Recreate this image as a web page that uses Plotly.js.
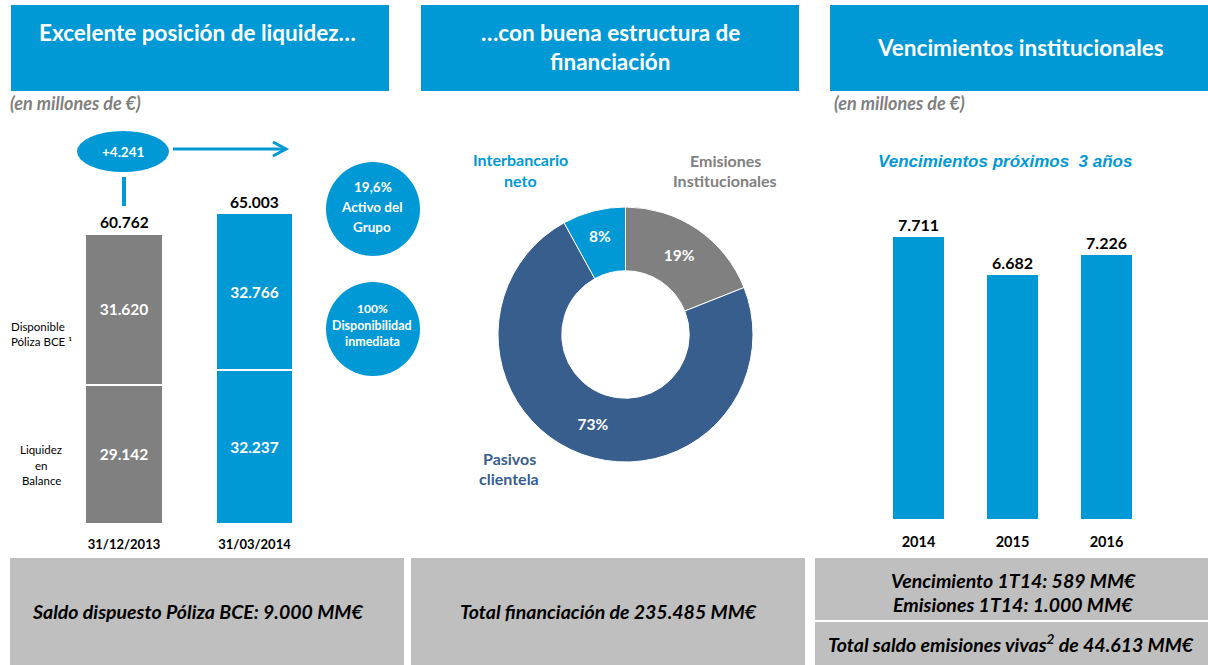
<!DOCTYPE html>
<html>
<head>
<meta charset="utf-8">
<script src="https://cdn.plot.ly/plotly-3.0.1.min.js"></script>
<style>html,body{margin:0;padding:0;background:#fff;}#chart{width:1208px;height:665px;}</style>
</head>
<body>
<div id="chart"></div>
<script>
// ---------- DATA ----------
const liqDates = ['31/12/2013', '31/03/2014'];
const liqBalance = [29142, 32237];          // Liquidez en Balance
const liqPoliza = [31620, 32766];           // Disponible Póliza BCE
const liqChange = '+4.241';
const fundLabels = ['Emisiones<br>Institucionales', 'Pasivos<br>clientela', 'Interbancario<br>neto'];
const fundShares = [19, 73, 8];
const matYears = ['2014', '2015', '2016'];
const matValues = [7711, 6682, 7226];

// ---------- STYLE ----------
const BLUE = '#0099D5', GRAY = '#808080', DARK = '#385E8E', BOX = '#BFBFBF';
const FONT = 'Lato, "Open Sans", sans-serif';
const W = 1208, H = 665;
const X = p => p / W;
const Y = p => 1 - p / H;
const fmt = n => String(Math.round(n)).replace(/\B(?=(\d{3})+(?!\d))/g, '.');

const rect = (x0, y0, x1, y1, color, type) => ({
  type: type || 'rect', xref: 'paper', yref: 'paper',
  x0: X(x0), x1: X(x1), y0: Y(y1), y1: Y(y0),
  fillcolor: color, line: {width: 0}, layer: 'below'
});
const seg = (pts) => 'M' + pts.map(p => X(p[0]) + ',' + Y(p[1])).join(' L');

const shapes = [
  rect(11, 5, 389, 91, BLUE), rect(421, 5, 799, 91, BLUE), rect(830, 5, 1208, 91, BLUE),
  rect(10, 558, 404, 665, BOX), rect(411, 558, 805, 665, BOX),
  rect(815, 558, 1208, 620, BOX), rect(815, 622, 1208, 665, BOX),
  rect(77, 131, 169, 172, BLUE, 'circle'),
  rect(326, 162, 420, 256, BLUE, 'circle'),
  rect(326, 282, 420, 376, BLUE, 'circle'),
  {type: 'path', xref: 'paper', yref: 'paper', path: seg([[124, 177], [124, 206]]), line: {color: BLUE, width: 4}},
  {type: 'path', xref: 'paper', yref: 'paper', path: seg([[173, 149], [285, 149]]), line: {color: BLUE, width: 3}},
  {type: 'path', xref: 'paper', yref: 'paper', path: seg([[273, 142], [286, 149], [273, 156]]), line: {color: BLUE, width: 3}}
];

const ann = (text, px, py, opts) => Object.assign({
  text: text, xref: 'paper', yref: 'paper', x: X(px), y: Y(py),
  xanchor: 'center', yanchor: 'middle', showarrow: false,
  font: {family: FONT, size: 14, color: '#000', weight: 'bold'}
}, opts || {});
const f = (size, color, weight, style, family) => ({family: family || FONT, size: size, color: color, weight: weight || 'bold', style: style || 'normal'});

const annotations = [
  ann('Excelente posición de liquidez…', 197, 33, {font: f(22.5, '#fff')}),
  ann('…con buena estructura de', 610, 33, {font: f(22.5, '#fff')}),
  ann('financiación', 610, 62, {font: f(22.5, '#fff')}),
  ann('Vencimientos institucionales', 1020, 47, {font: f(22.5, '#fff')}),
  ann('(en millones de €)', 8, 103, {xanchor: 'left', font: f(18, '#808080', 'bold', 'italic')}),
  ann('(en millones de €)', 832, 103, {xanchor: 'left', font: f(18, '#808080', 'bold', 'italic')}),
  ann(liqChange, 123, 152, {font: f(13.5, '#fff')}),
  ann('19,6%', 373, 187, {font: f(13.5, '#fff')}),
  ann('Activo del', 372, 207, {font: f(13.5, '#fff')}),
  ann('Grupo', 372, 227, {font: f(13.5, '#fff')}),
  ann('100%', 372, 308, {font: f(12, '#fff')}),
  ann('Disponibilidad', 372, 325, {font: f(12.5, '#fff')}),
  ann('inmediata', 372, 341, {font: f(12.5, '#fff')}),
  ann('Disponible', 9, 326, {xanchor: 'left', font: f(11.5, '#000', 'normal')}),
  ann('Póliza BCE ¹', 9, 342, {xanchor: 'left', font: f(11.5, '#000', 'normal')}),
  ann('Liquidez', 41, 449, {font: f(11.5, '#000', 'normal')}),
  ann('en', 41, 465, {font: f(11.5, '#000', 'normal')}),
  ann('Balance', 41, 481, {font: f(11.5, '#000', 'normal')}),
  ann('Vencimientos próximos  3 años', 1005, 162, {font: f(17, BLUE, 'bold', 'italic', '"Liberation Sans", Arial, sans-serif')}),
  ann('Interbancario', 520, 159, {font: f(16, BLUE)}),
  ann('neto', 520, 180, {font: f(16, BLUE)}),
  ann('Emisiones', 725, 160, {font: f(16, '#808080')}),
  ann('Institucionales', 725, 181, {font: f(16, '#808080')}),
  ann('Pasivos', 509, 458, {font: f(16, DARK)}),
  ann('clientela', 509, 478, {font: f(16, DARK)}),
  ann('Saldo dispuesto Póliza BCE: 9.000 MM€', 197, 611, {font: f(19.5, '#000', 'bold', 'italic')}),
  ann('Total financiación de 235.485 MM€', 608, 611, {font: f(19.5, '#000', 'bold', 'italic')}),
  ann('Vencimiento 1T14: 589 MM€', 1013, 580, {font: f(19.5, '#000', 'bold', 'italic')}),
  ann('Emisiones 1T14: 1.000 MM€', 1013, 604, {font: f(19.5, '#000', 'bold', 'italic')}),
  ann('Total saldo emisiones vivas<sup>2</sup> de 44.613 MM€', 1011, 643, {font: f(19.5, '#000', 'bold', 'italic')})
];
// totals above stacked bars
liqDates.forEach((d, i) => {
  annotations.push({
    text: fmt(liqBalance[i] + liqPoliza[i]), xref: 'x', yref: 'y', x: d, y: liqBalance[i] + liqPoliza[i],
    xanchor: 'center', yanchor: 'bottom', yshift: 1, showarrow: false, font: f(15.5, '#000')
  });
});

const traces = [
  {type: 'bar', name: 'Liquidez en Balance', x: liqDates, y: liqBalance, xaxis: 'x', yaxis: 'y',
   width: 0.59, marker: {color: [GRAY, BLUE], line: {color: '#fff', width: 1.5}},
   texttemplate: '%{y:,.0f}', textposition: 'inside', insidetextanchor: 'middle',
   textfont: f(15.5, '#fff'), hoverinfo: 'none'},
  {type: 'bar', name: 'Disponible Póliza BCE', x: liqDates, y: liqPoliza, xaxis: 'x', yaxis: 'y',
   width: 0.59, marker: {color: [GRAY, BLUE], line: {color: '#fff', width: 1.5}},
   texttemplate: '%{y:,.0f}', textposition: 'inside', insidetextanchor: 'middle',
   textfont: f(15.5, '#fff'), hoverinfo: 'none'},
  {type: 'pie', labels: fundLabels, values: fundShares, hole: 0.5, sort: false, direction: 'clockwise',
   rotation: 0, marker: {colors: [GRAY, DARK, BLUE], line: {color: '#fff', width: 1}},
   textinfo: 'percent', textposition: 'inside', insidetextorientation: 'horizontal',
   textfont: f(15.5, '#fff'), showlegend: false, hoverinfo: 'none',
   domain: {x: [X(498), X(753)], y: [Y(462), Y(207)]}},
  {type: 'bar', x: matYears, y: matValues, xaxis: 'x2', yaxis: 'y2', width: 0.55,
   marker: {color: BLUE, line: {width: 0}}, texttemplate: '%{y:,.0f}', textposition: 'outside',
   textfont: f(16, '#000'), cliponaxis: false, hoverinfo: 'none'}
];

const axBase = {showgrid: false, zeroline: false, showline: false, ticks: '', fixedrange: true};
const layout = {
  width: W, height: H, margin: {l: 0, r: 0, t: 0, b: 0},
  paper_bgcolor: '#fff', plot_bgcolor: 'rgba(0,0,0,0)',
  showlegend: false, barmode: 'stack', separators: ',.',
  font: {family: FONT},
  xaxis: Object.assign({}, axBase, {domain: [X(58.75), X(319.75)], range: [-0.5, 1.5], type: 'category',
    anchor: 'y', tickfont: f(13, '#000'), ticklabelstandoff: 11}),
  yaxis: Object.assign({}, axBase, {domain: [Y(524), Y(200)], range: [0, 67882], showticklabels: false, anchor: 'x'}),
  xaxis2: Object.assign({}, axBase, {domain: [X(871.5), X(1153.5)], range: [-0.5, 2.5], type: 'category',
    anchor: 'y2', tickfont: f(14.5, '#000'), ticklabelstandoff: 12}),
  yaxis2: Object.assign({}, axBase, {domain: [Y(519), Y(200)], range: [0, 8723], showticklabels: false, anchor: 'x2'}),
  shapes: shapes, annotations: annotations
};

Plotly.newPlot('chart', traces, layout, {staticPlot: true, displayModeBar: false});
</script>
</body>
</html>
